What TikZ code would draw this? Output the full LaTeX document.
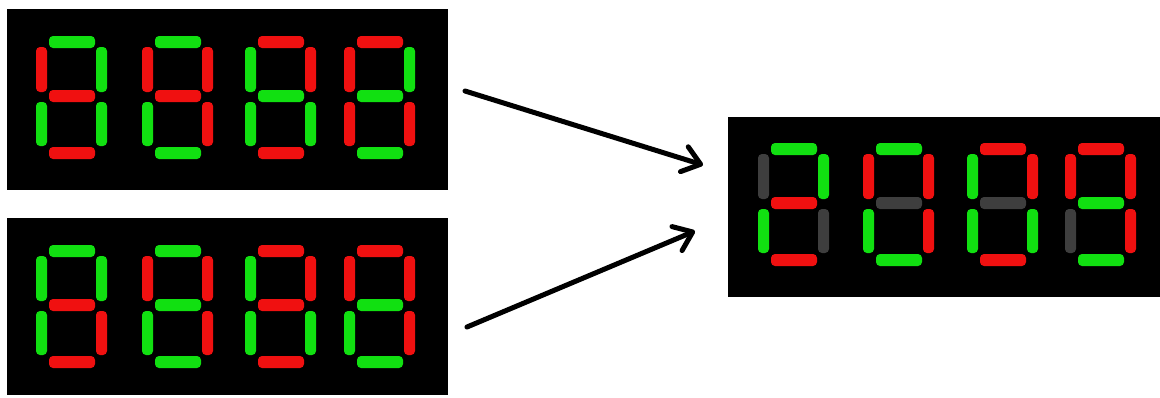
\documentclass[tikz,border=0pt]{standalone}
\usetikzlibrary{arrows.meta}
\definecolor{segG}{HTML}{11E011}
\definecolor{segR}{HTML}{F01010}
\definecolor{segK}{HTML}{3E3E3E}
\newcommand\sdigit[9]{%
  \begin{scope}[shift={(#1,#2)}]
  \fill[segseg,#3] (13,0) rectangle (59,12);
  \fill[segseg,#4] (60,11) rectangle (71,56);
  \fill[segseg,#5] (60,66) rectangle (71,110);
  \fill[segseg,#6] (13,111) rectangle (59,123);
  \fill[segseg,#7] (0,66) rectangle (11,110);
  \fill[segseg,#8] (0,11) rectangle (11,56);
  \fill[segseg,#9] (13,54) rectangle (59,66);
  \end{scope}}
\begin{document}
\begin{tikzpicture}[x=1pt,y=-1pt,
  segseg/.style={rounded corners=4pt},
  display/.style={fill=black,draw=none,inner sep=0pt,anchor=north west},
  arr/.style={line width=5pt,line cap=round,-{Straight Barb[length=17pt,width=26pt,round]}}]
\useasboundingbox[fill=white] (0,0) rectangle (1160,397);
% displays
\node[display,minimum width=441pt,minimum height=181pt] (topdisp) at (7,9) {};
\node[display,minimum width=441pt,minimum height=177pt] (botdisp) at (7,218) {};
\node[display,minimum width=432pt,minimum height=180pt] (resdisp) at (728,117) {};
% top display digits: a b c d e f g
\begin{scope}[shift={(7,9)}]
\sdigit{29}{27}{segG}{segG}{segG}{segR}{segG}{segR}{segR}
\sdigit{135}{27}{segG}{segR}{segR}{segG}{segG}{segR}{segR}
\sdigit{238}{27}{segR}{segR}{segG}{segR}{segG}{segG}{segG}
\sdigit{337}{27}{segR}{segG}{segR}{segG}{segR}{segR}{segG}
\end{scope}
% bottom display digits
\begin{scope}[shift={(7,218)}]
\sdigit{29}{27}{segG}{segG}{segR}{segR}{segG}{segG}{segR}
\sdigit{135}{27}{segG}{segR}{segR}{segG}{segG}{segR}{segG}
\sdigit{238}{27}{segR}{segR}{segG}{segR}{segG}{segG}{segR}
\sdigit{337}{27}{segR}{segR}{segR}{segG}{segG}{segR}{segG}
\end{scope}
% result display digits
\begin{scope}[shift={(728,117)}]
\sdigit{30}{26}{segG}{segG}{segK}{segR}{segG}{segK}{segR}
\sdigit{135}{26}{segG}{segR}{segR}{segG}{segG}{segR}{segK}
\sdigit{239}{26}{segR}{segR}{segG}{segR}{segG}{segG}{segK}
\sdigit{337}{26}{segR}{segR}{segR}{segG}{segK}{segR}{segG}
\end{scope}
% arrows
\coordinate (a1s) at (465,91);
\coordinate (a1e) at (703,165);
\coordinate (a2s) at (467,327);
\coordinate (a2e) at (695,231);
\draw[arr] (a1s) -- (a1e);
\draw[arr] (a2s) -- (a2e);
\end{tikzpicture}
\end{document}
